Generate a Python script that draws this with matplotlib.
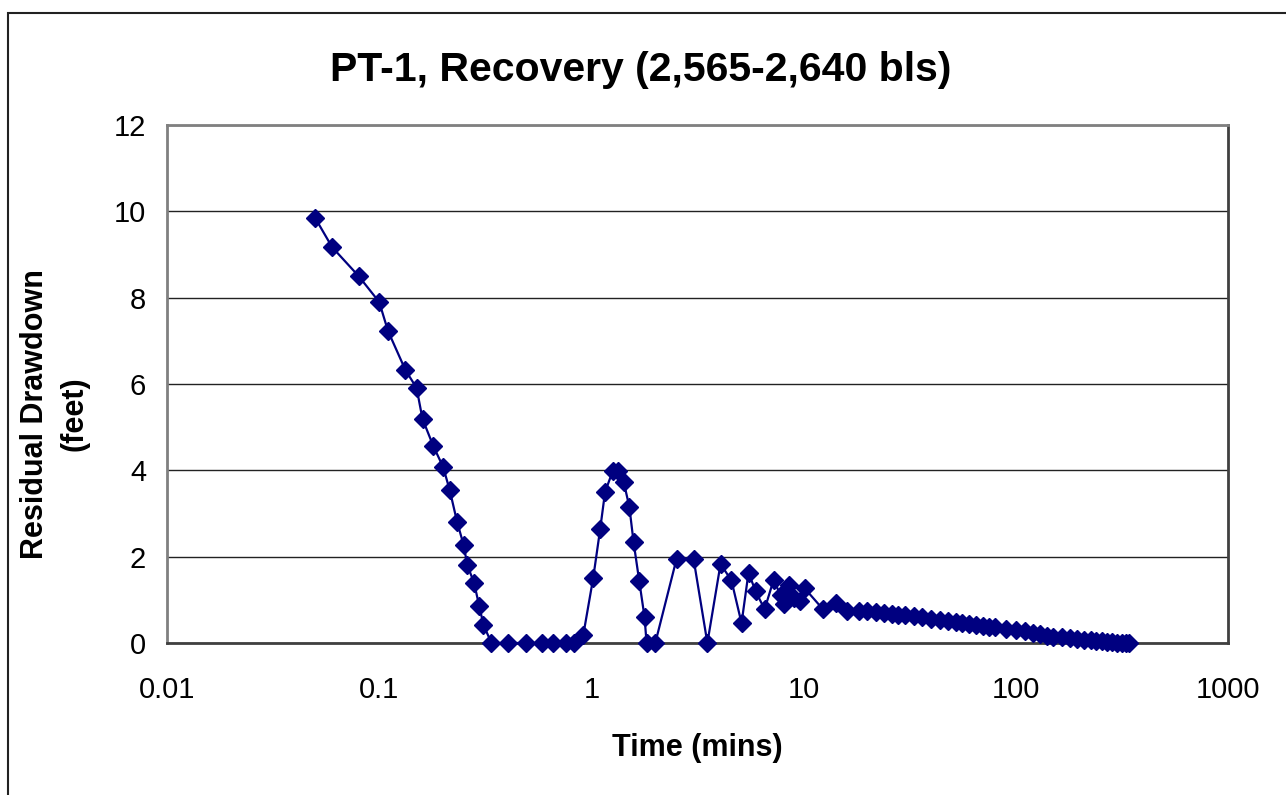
import numpy as np
import matplotlib
matplotlib.use('Agg')
import matplotlib.pyplot as plt
from matplotlib.patches import Rectangle

# ============================================================
# Data (time in minutes, drawdown in feet)
# ============================================================
time_early = [0.05, 0.06, 0.08, 0.10, 0.11, 0.133, 0.15, 0.16, 0.18, 0.20,
              0.215, 0.233, 0.25, 0.26, 0.28, 0.296, 0.31, 0.338, 0.406, 0.494,
              0.587, 0.662, 0.762, 0.831, 0.916]
draw_early = [9.84, 9.17, 8.50, 7.90, 7.23, 6.32, 5.91, 5.19, 4.56, 4.08,
              3.54, 2.80, 2.27, 1.81, 1.39, 0.86, 0.42, 0.0, 0.0, 0.0,
              0.0, 0.0, 0.0, 0.0, 0.19]

time_mid = [1.02, 1.10, 1.16, 1.26, 1.34, 1.42, 1.51, 1.58, 1.68, 1.78,
            1.82, 2.00, 2.52, 3.03, 3.52, 4.06, 4.57, 5.10, 5.50, 5.94,
            6.55, 7.22, 7.79, 8.05, 8.50, 8.97, 9.58, 10.1, 12.3, 14.2,
            16.1, 18.2]
draw_mid = [1.51, 2.64, 3.50, 3.98, 3.98, 3.73, 3.15, 2.34, 1.44, 0.60,
            0.0, 0.0, 1.95, 1.95, 0.0, 1.83, 1.45, 0.46, 1.63, 1.20,
            0.78, 1.46, 1.11, 0.90, 1.34, 1.04, 0.97, 1.27, 0.79, 0.93,
            0.73, 0.74]

time_late = [20, 22, 24, 26, 28, 30, 33, 36, 40, 44, 48, 52, 56, 60, 65,
             70, 75, 80, 90, 100, 110, 120, 130, 140, 150, 165, 180, 195,
             210, 225, 240, 255, 270, 285, 300, 315, 330, 341]
draw_late = [0.74, 0.72, 0.70, 0.68, 0.66, 0.65, 0.62, 0.60, 0.56, 0.53,
             0.50, 0.48, 0.46, 0.44, 0.42, 0.39, 0.37, 0.36, 0.33, 0.30,
             0.27, 0.23, 0.20, 0.17, 0.15, 0.13, 0.11, 0.10, 0.08, 0.06,
             0.05, 0.04, 0.03, 0.02, 0.01, 0.01, 0.0, 0.0]

x_ticks = [0.01, 0.1, 1, 10, 100, 1000]
x_tick_labels = ['0.01', '0.1', '1', '10', '100', '1000']
y_ticks = [0, 2, 4, 6, 8, 10, 12]

title = 'PT-1, Recovery (2,565-2,640 bls)'

# ============================================================
# Plot
# ============================================================
plt.rcParams['font.family'] = ['Liberation Sans', 'DejaVu Sans']

t = np.array(time_early + time_mid + time_late)
s = np.array(draw_early + draw_mid + draw_late)

fig = plt.figure(figsize=(12.86, 7.95), dpi=100)
ax = fig.add_axes([167 / 1286, 152 / 795, 1061 / 1286, 518 / 795])

# outer chart frame (Excel chart area)
fig.patches.append(Rectangle((8 / 1286, -0.1), 1.2, 1.1 - 13 / 795,
                             transform=fig.transFigure, fill=False,
                             edgecolor='#222222', lw=1.5))

ax.plot(t, s, color='#000080', lw=1.6, marker='D', markersize=9.5,
        markerfacecolor='#000080', markeredgecolor='#000080', zorder=3,
        clip_on=False)

ax.set_xscale('log')
ax.set_xlim(0.01, 1000)
ax.set_ylim(0, 12)
ax.set_xticks(x_ticks)
ax.set_xticklabels(x_tick_labels)
ax.xaxis.set_minor_locator(matplotlib.ticker.NullLocator())
ax.set_yticks(y_ticks)
ax.tick_params(axis='both', length=0, labelsize=21)
ax.tick_params(axis='y', pad=15)
ax.tick_params(axis='x', pad=24)

ax.grid(True, axis='y', color='#222222', lw=1.0)
ax.set_axisbelow(True)

for side in ['left', 'top']:
    ax.spines[side].set_color('#808080')
    ax.spines[side].set_linewidth(2)
for side in ['right', 'bottom']:
    ax.spines[side].set_color('#404040')
    ax.spines[side].set_linewidth(2)

fig.text(641 / 1286, 1 - 70 / 795, title, ha='center', va='center',
         fontsize=29.5, fontweight='bold')
fig.text(697 / 1286, 1 - 748 / 795, 'Time (mins)', ha='center', va='center',
         fontsize=22, fontweight='bold')
fig.text(55 / 1286, 1 - 414 / 795, 'Residual Drawdown\n(feet)', ha='center',
         va='center', rotation=90, fontsize=22, fontweight='bold',
         linespacing=1.4, multialignment='center')

fig.savefig('out.png', dpi=100)
plt.close(fig)
